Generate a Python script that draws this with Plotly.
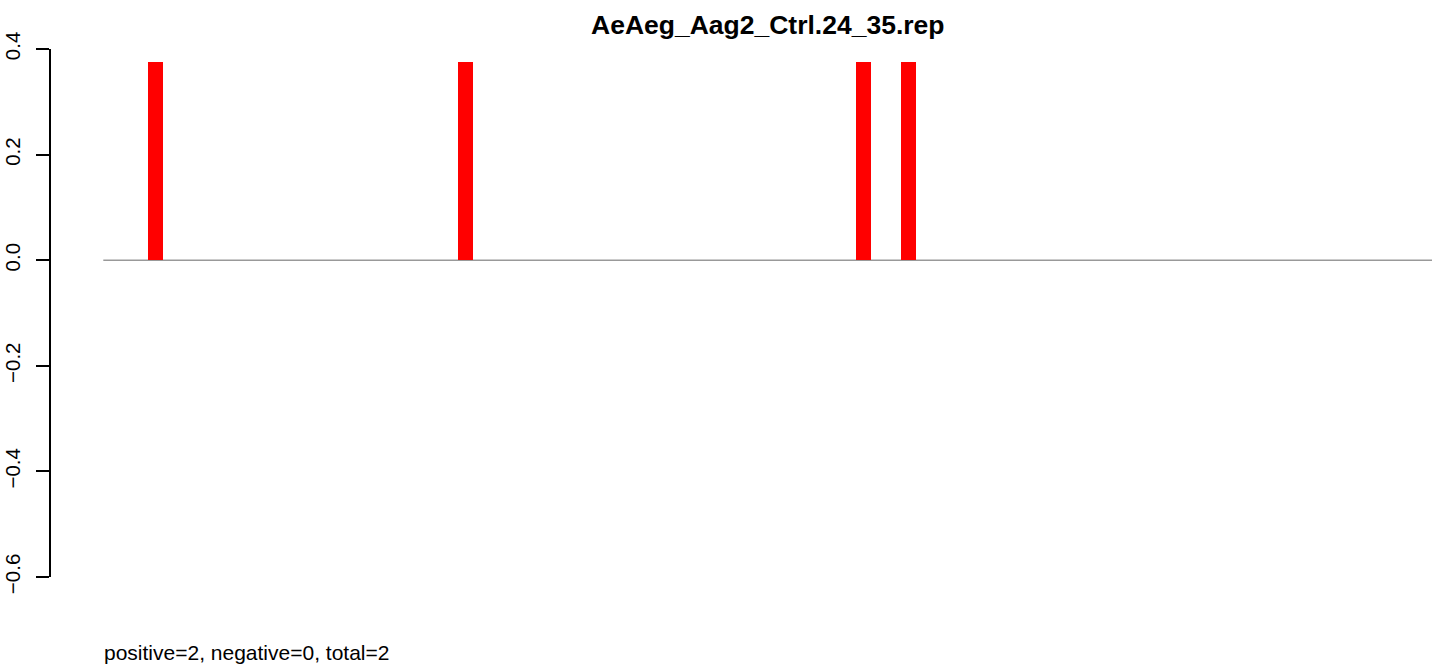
import plotly.graph_objects as go

# data
positions = [52, 362, 760, 805]          # bar positions along the sequence
values = [0.375, 0.375, 0.375, 0.375]    # normalized counts
seq_start, seq_end = 0, 1329
y_ticks = [-0.6, -0.4, -0.2, 0.0, 0.2, 0.4]
y_tick_text = ["\u22120.6", "\u22120.4", "\u22120.2", "0.0", "0.2", "0.4"]
title_text = "AeAeg_Aag2_Ctrl.24_35.rep"
summary_text = "positive=2, negative=0, total=2"

W, H = 1439, 666
L, R, T, B = 51, 7, 49, 89

fig = go.Figure()
fig.add_trace(go.Bar(x=positions, y=values, width=15.3,
                     marker=dict(color="#FF0000", line=dict(width=0)),
                     hoverinfo="x+y"))

fig.add_shape(type="line", xref="x", yref="y", x0=seq_start, x1=seq_end, y0=0, y1=0,
              line=dict(color="#999999", width=1.5), layer="below")

plot_w = W - L - R
plot_h = H - T - B
fig.add_annotation(text="<b>" + title_text + "</b>", xref="paper", yref="paper",
                   x=(768.5 - L) / plot_w, y=(H - B - 25) / plot_h,
                   xanchor="center", yanchor="middle",
                   showarrow=False, font=dict(family="Liberation Sans, Arial", size=26.5, color="black"))
fig.add_annotation(text=summary_text, xref="paper", yref="paper",
                   x=(102 - L) / plot_w, y=(H - B - 652) / plot_h,
                   xanchor="left", yanchor="middle",
                   showarrow=False, font=dict(family="Liberation Sans, Arial", size=21, color="black"))

fig.update_layout(
    width=W, height=H,
    margin=dict(l=L, r=R, t=T, b=B, pad=0, autoexpand=False),
    paper_bgcolor="white", plot_bgcolor="white",
    showlegend=False, bargap=0,
    font=dict(family="Liberation Sans, Arial", color="black"),
    xaxis=dict(range=[-52.3, 1328.7], visible=False, showgrid=False, zeroline=False, automargin=False),
    yaxis=dict(range=[-0.6, 0.4], tickvals=y_ticks, ticktext=y_tick_text, automargin=False,
               showgrid=False, zeroline=False, showline=True, linecolor="black", linewidth=1.8,
               ticks="outside", ticklen=13, tickwidth=1.8, tickcolor="black",
               tickangle=-90, tickfont=dict(size=20.5, family="Liberation Sans, Arial", color="black"),
               ticklabelstandoff=8),
)

fig.write_html("out.html", config={"displayModeBar": False},
               post_script="document.body.style.margin='0';document.body.style.overflow='hidden';")
